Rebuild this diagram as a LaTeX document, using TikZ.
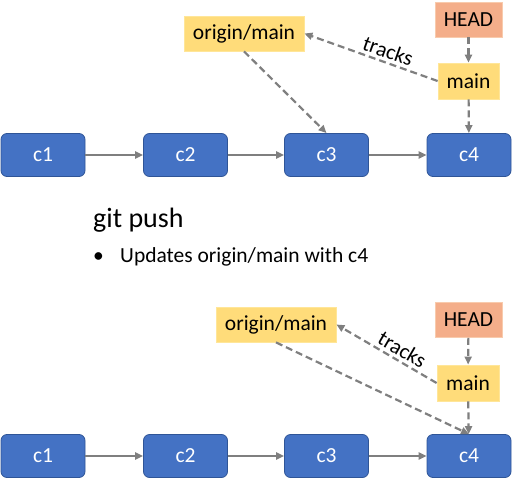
\documentclass[tikz,border=0pt]{standalone}
\usepackage{fontspec}
\setmainfont{Carlito}
\usetikzlibrary{arrows.meta}
\definecolor{cblue}{HTML}{4472C4}
\definecolor{cblueb}{HTML}{2F5597}
\definecolor{lyel}{HTML}{FFDC7A}
\definecolor{lyelb}{HTML}{FFE699}
\definecolor{lhead}{HTML}{F4AE8A}
\definecolor{lheadb}{HTML}{F8CBAD}
\definecolor{arr}{HTML}{7F7F7F}
\tikzset{
  commit/.style={draw=cblueb, line width=0.8pt, fill=cblue, rounded corners=6pt, minimum width=84pt, minimum height=43pt, text=white, font=\fontsize{21.5}{25}\selectfont, inner sep=0pt},
  branch/.style={draw=lyelb, line width=0.8pt, fill=lyel, minimum height=35pt, font=\fontsize{21.5}{25}\selectfont, inner sep=0pt},
  headbox/.style={draw=lheadb, line width=0.8pt, fill=lhead, minimum height=35pt, font=\fontsize{21.5}{25}\selectfont, inner sep=0pt},
  solidarr/.style={draw=arr, line width=2.2pt, -{Triangle[length=8pt,width=7pt]}},
  dasharr/.style={draw=arr, line width=2.2pt, dash pattern=on 7pt off 4pt, -{Triangle[length=8pt,width=7pt]}},
  lbl/.style={font=\fontsize{21.5}{25}\selectfont}
}
\begin{document}
\begin{tikzpicture}[x=1pt,y=-1pt]
\useasboundingbox (0,0) rectangle (512,482);
% top row
\node[commit] (a1) at (43,155) {c1};
\node[commit] (a2) at (185.5,155) {c2};
\node[commit] (a3) at (326.5,155) {c3};
\node[commit] (a4) at (469,155) {c4};
\node[branch, minimum width=120pt] (ao) at (244,33.5) {origin/main};
\node[headbox, minimum width=67pt] (ah) at (468.5,19.5) {HEAD};
\node[branch, minimum width=61pt, minimum height=36pt] (am) at (468.5,81) {main};
\draw[solidarr] (a1) -- (a2);
\draw[solidarr] (a2) -- (a3);
\draw[solidarr] (a3) -- (a4);
\draw[dasharr] (ah) -- (am);
\draw[dasharr] (am) -- (a4);
\draw[dasharr] (ao.south) -- (a3.north);
\draw[dasharr] (am.west) -- node[lbl, sloped, above, pos=0.4, inner sep=3pt] {tracks} (ao.east);
% text
\node[anchor=base west, font=\fontsize{28}{32}\selectfont, inner sep=0pt] (t1) at (93,227) {git push};
\node[anchor=base west, lbl, inner sep=0pt] (t2) at (93,262) {•};
\node[anchor=base west, lbl, inner sep=0pt] (t3) at (120,262) {Updates origin/main with c4};
% bottom row
\node[commit] (b1) at (43,456) {c1};
\node[commit] (b2) at (185.5,456) {c2};
\node[commit] (b3) at (326.5,456) {c3};
\node[commit] (b4) at (469,456) {c4};
\node[branch, minimum width=120pt] (bo) at (276,324.5) {origin/main};
\node[headbox, minimum width=67pt] (bh) at (468.5,320) {HEAD};
\node[branch, minimum width=62pt, minimum height=36pt] (bm) at (468,383) {main};
\draw[solidarr] (b1) -- (b2);
\draw[solidarr] (b2) -- (b3);
\draw[solidarr] (b3) -- (b4);
\draw[dasharr] (bh) -- (bm);
\draw[dasharr] (bm) -- (b4);
\draw[dasharr] (bo.south) -- (b4.north);
\draw[dasharr] (bm.west) -- node[lbl, sloped, above, pos=0.4, inner sep=3pt] {tracks} (bo.east);
\end{tikzpicture}
\end{document}
